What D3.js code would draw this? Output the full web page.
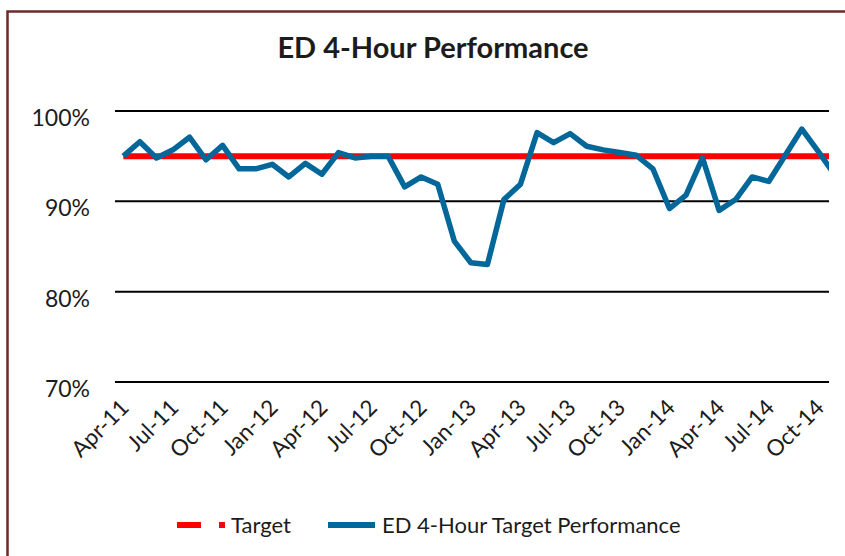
<!DOCTYPE html>
<html>
<head>
<meta charset="utf-8">
<script src="https://cdn.jsdelivr.net/npm/d3@7"></script>
<style>
  body { margin: 0; background: #fff; }
  svg { display: block; font-family: Lato, "Open Sans", sans-serif; }
</style>
</head>
<body>
<div id="chart"></div>
<script>
// monthly ED 4-hour performance, Apr-11 .. Nov-14 (last month sits past the plot edge)
const months = ["Apr-11","May-11","Jun-11","Jul-11","Aug-11","Sep-11","Oct-11","Nov-11","Dec-11",
  "Jan-12","Feb-12","Mar-12","Apr-12","May-12","Jun-12","Jul-12","Aug-12","Sep-12","Oct-12","Nov-12","Dec-12",
  "Jan-13","Feb-13","Mar-13","Apr-13","May-13","Jun-13","Jul-13","Aug-13","Sep-13","Oct-13","Nov-13","Dec-13",
  "Jan-14","Feb-14","Mar-14","Apr-14","May-14","Jun-14","Jul-14","Aug-14","Sep-14","Oct-14","Nov-14"]
const performance = [95.0, 96.6, 94.8, 95.7, 97.1, 94.6, 96.2, 93.6, 93.6,
  94.1, 92.7, 94.2, 93.0, 95.4, 94.8, 95.0, 95.0, 91.6, 92.7, 91.9, 85.6,
  83.2, 83.0, 90.2, 91.9, 97.6, 96.5, 97.5, 96.1, 95.7, 95.4, 95.1, 93.6,
  89.2, 90.7, 94.8, 89.0, 90.2, 92.7, 92.2, 95.1, 98.0, 95.5, 92.9]
const target = months.map(() => 95)
const yTicks = [70, 80, 90, 100]
const xTickLabels = ["Apr-11","Jul-11","Oct-11","Jan-12","Apr-12","Jul-12","Oct-12",
  "Jan-13","Apr-13","Jul-13","Oct-13","Jan-14","Apr-14","Jul-14","Oct-14"]

const title = "ED 4-Hour Performance"
const seriesNames = ["Target", "ED 4-Hour Target Performance"]
const colors = { target: "#ff0000", perf: "#04679a", frame: "#6e2a2a", text: "#1c1c1c" }

const width = 845, height = 556
const plot = { left: 115, right: 829, top: 111, bottom: 382 }

const svg = d3.select("#chart").append("svg")
  .attr("width", width)
  .attr("height", height)

// outer frame (runs off the right/bottom of the picture)
svg.append("rect")
  .attr("x", 7.5).attr("y", 11.5)
  .attr("width", 900).attr("height", 600)
  .attr("fill", "none")
  .attr("stroke", colors.frame)
  .attr("stroke-width", 2.5)

svg.append("text")
  .attr("x", 433).attr("y", 58)
  .attr("text-anchor", "middle")
  .attr("font-weight", "bold")
  .attr("font-size", 29)
  .attr("fill", colors.text)
  .text(title)

const x = d3.scalePoint()
  .domain(months)
  .range([123.3, 123.3 + 16.55 * (months.length - 1)])

const y = d3.scaleLinear()
  .domain([70, 100])
  .range([plot.bottom, plot.top])

// gridlines
svg.append("g")
  .selectAll("line")
  .data(yTicks)
  .join("line")
  .attr("x1", plot.left).attr("x2", plot.right)
  .attr("y1", d => y(d)).attr("y2", d => y(d))
  .attr("stroke", "#000")
  .attr("stroke-width", 2)

svg.append("g")
  .selectAll("text")
  .data(yTicks)
  .join("text")
  .attr("x", 90)
  .attr("y", d => y(d) + 15)
  .attr("text-anchor", "end")
  .attr("font-size", 23)
  .attr("fill", colors.text)
  .text(d => d + "%")

svg.append("g")
  .selectAll("text")
  .data(xTickLabels)
  .join("text")
  .attr("text-anchor", "end")
  .attr("font-size", 22.5)
  .attr("fill", colors.text)
  .attr("transform", d => `translate(${x(d) + 7},${plot.bottom + 27}) rotate(-45)`)
  .text(d => d)

svg.append("clipPath").attr("id", "plot-clip")
  .append("rect")
  .attr("x", plot.left).attr("y", 0)
  .attr("width", plot.right - plot.left).attr("height", height)

const line = d3.line()
  .x((d, i) => x(months[i]))
  .y(d => y(d))

svg.append("path")
  .datum(target)
  .attr("clip-path", "url(#plot-clip)")
  .attr("d", line)
  .attr("fill", "none")
  .attr("stroke", colors.target)
  .attr("stroke-width", 6)

svg.append("path")
  .datum(performance)
  .attr("clip-path", "url(#plot-clip)")
  .attr("d", line)
  .attr("fill", "none")
  .attr("stroke", colors.perf)
  .attr("stroke-width", 5.5)
  .attr("stroke-linejoin", "round")

// legend
const legend = svg.append("g").attr("font-size", 22).attr("fill", colors.text)
legend.append("rect").attr("x", 177).attr("y", 522).attr("width", 24).attr("height", 6).attr("fill", colors.target)
legend.append("rect").attr("x", 219).attr("y", 522).attr("width", 6).attr("height", 6).attr("fill", colors.target)
legend.append("text").attr("x", 231).attr("y", 533).text(seriesNames[0])
legend.append("rect").attr("x", 328).attr("y", 522).attr("width", 47).attr("height", 6).attr("fill", colors.perf)
legend.append("text").attr("x", 382).attr("y", 533).text(seriesNames[1])
</script>
</body>
</html>
